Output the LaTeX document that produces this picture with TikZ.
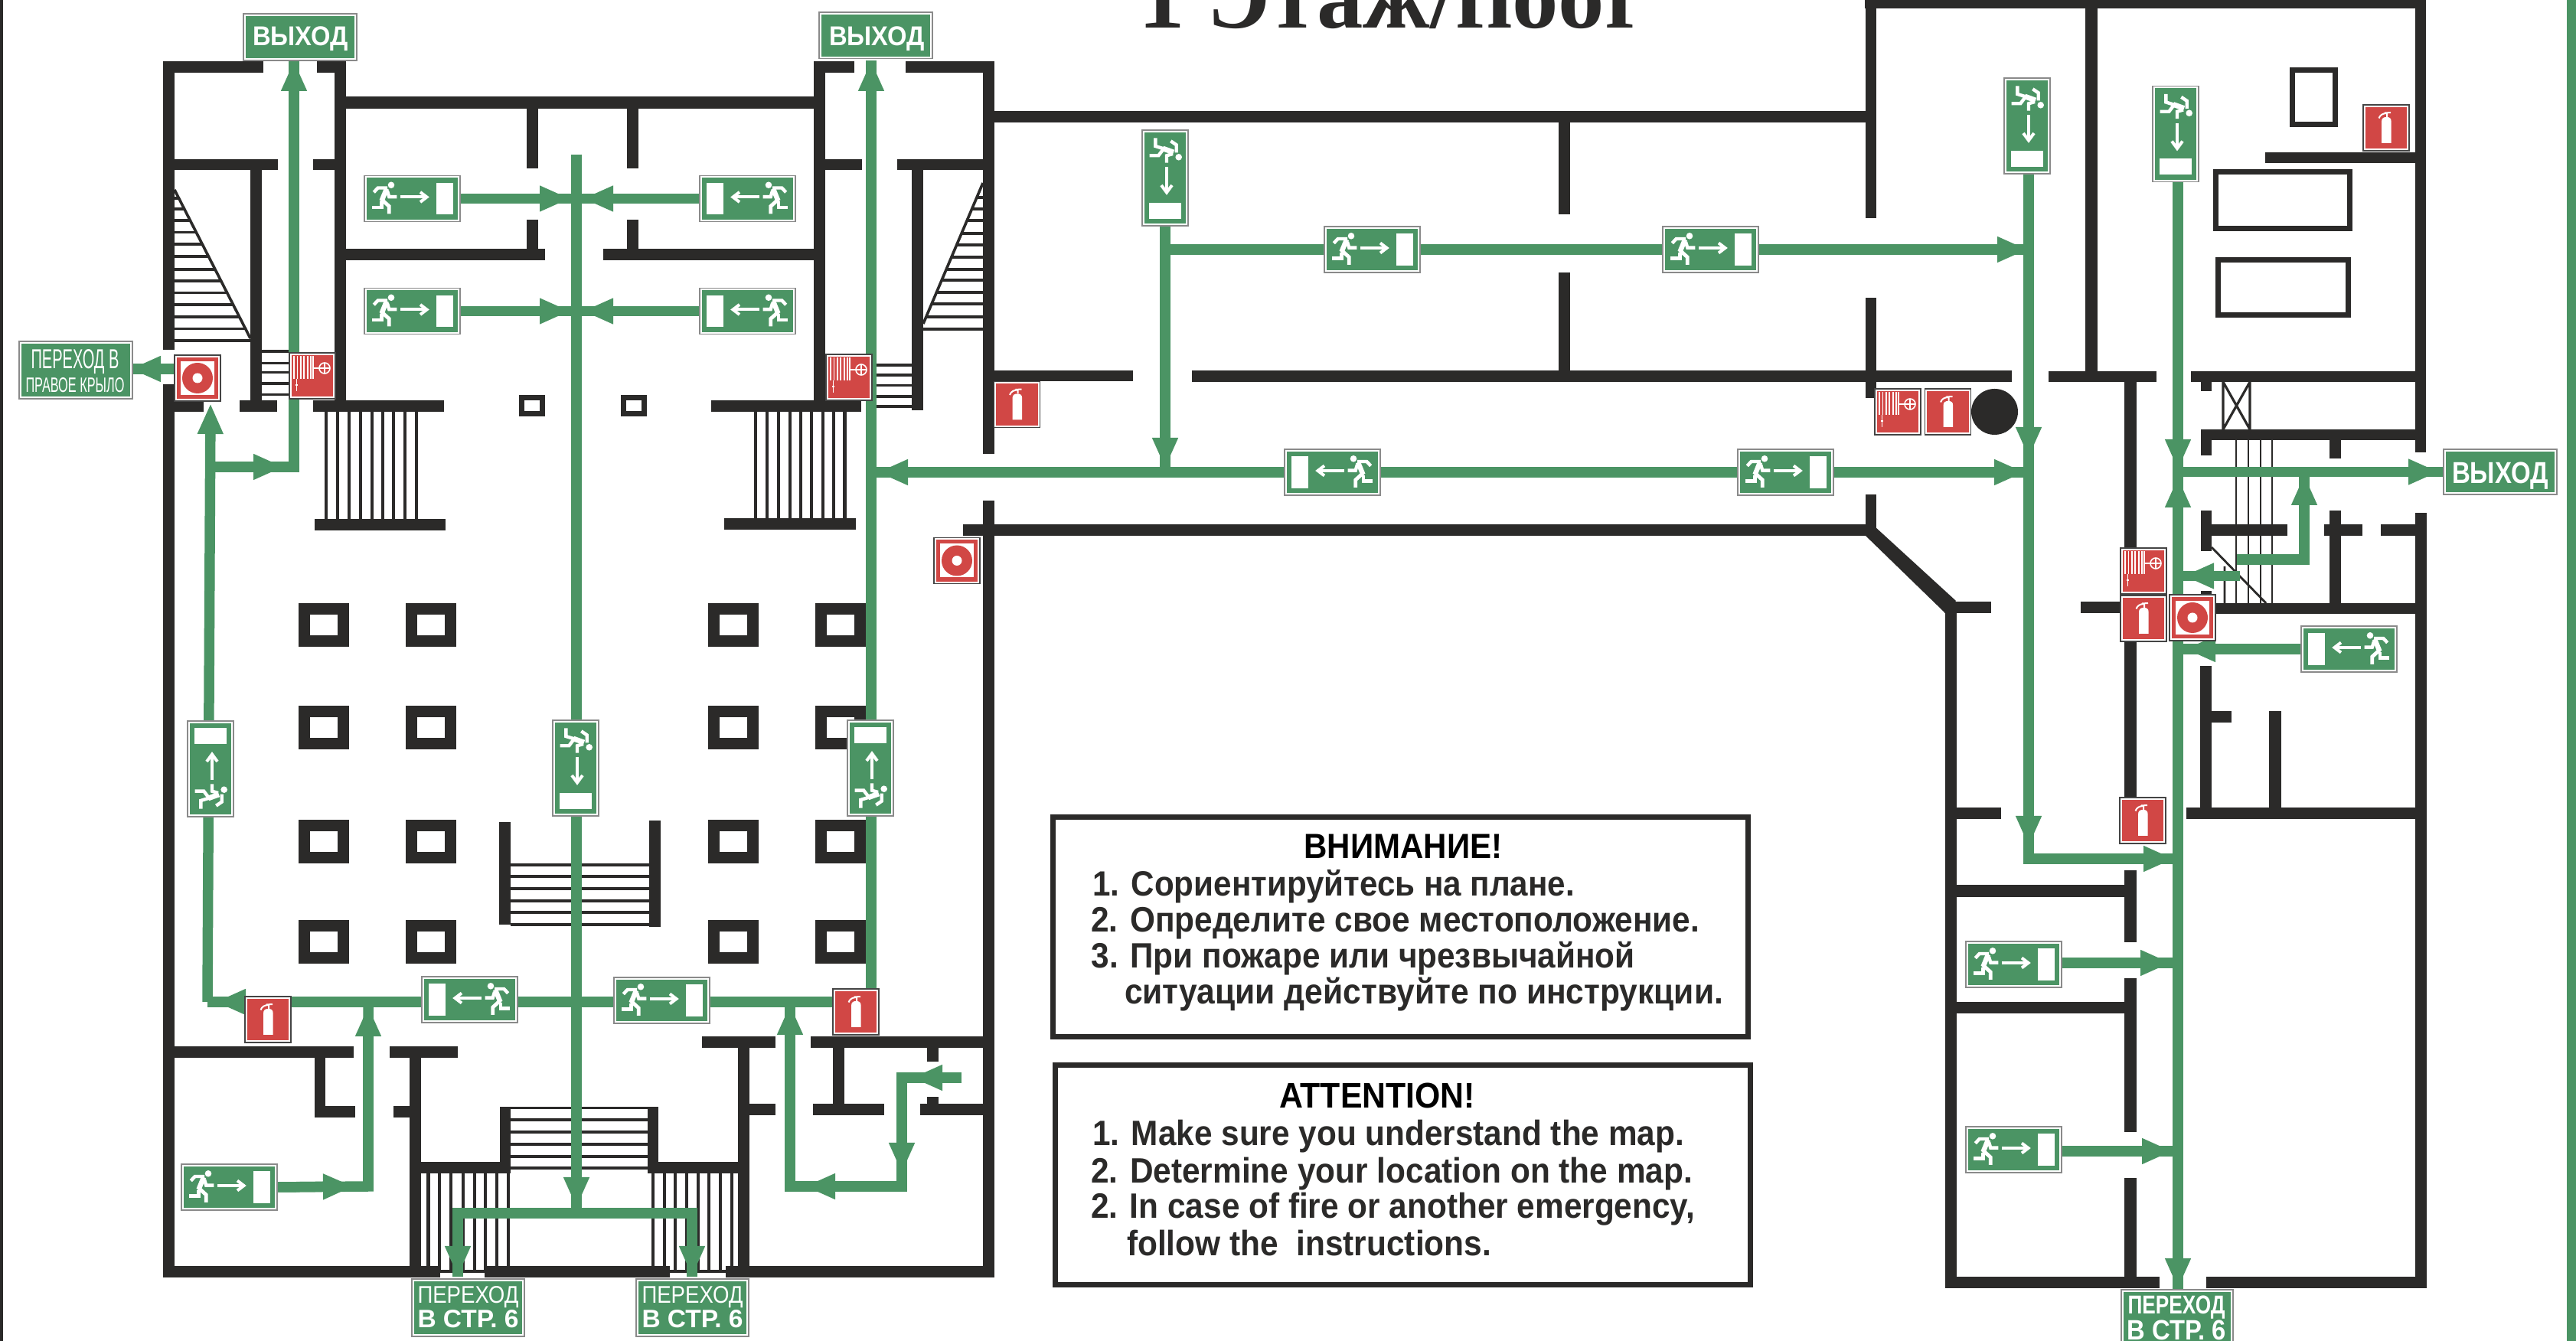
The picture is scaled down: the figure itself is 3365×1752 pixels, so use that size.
\documentclass[tikz,border=0pt]{standalone}
\usepackage{fontspec}
\usepackage{graphicx}
\setmainfont{Liberation Sans}
\newfontfamily\medf[FakeStretch=.92]{Liberation Sans Bold}
\newcommand\signf{}
\newcommand\exitf{}
\newfontfamily\titlef{Liberation Serif}
\usetikzlibrary{arrows.meta,backgrounds}
\definecolor{wallc}{HTML}{2B2A29}
\definecolor{grn}{HTML}{4B9464}
\definecolor{firered}{HTML}{D14745}
\definecolor{signline}{HTML}{8A8A8A}
\definecolor{redline}{HTML}{444444}
\tikzset{
  signbg/.style={fill=white,line width=.3pt,inner sep=0pt,outer sep=0pt,anchor=north west,rectangle},
  glyph/.style={draw=white,line width=1pt,line join=miter},
  glyphthin/.style={draw=white,line width=.4pt},
  routeline/.style={draw=grn,line width=3.375pt,line cap=butt,line join=miter},
  routego/.style={routeline,-{Triangle[length=10pt,width=7.75pt]}},
  tread/.style={draw=wallc,line width=.8pt},
  infobox/.style={draw=wallc,line width=1.75pt,fill=white,anchor=north west,rectangle,inner sep=0pt,minimum width=227pt,minimum height=71.75pt},
  label/.style={inner sep=0pt,outer sep=0pt,anchor=base west,text=wallc},
  signtext/.style={inner sep=0pt,outer sep=0pt,anchor=base,text=white}
}
\newcommand\signbox[7]{% name,x,y,w,h,fill,line
  \node[signbg,draw=#7,minimum width={#4*.25pt},minimum height={#5*.25pt}] (#1) at (#2,#3) {};
  \fill[#6] (#2+2.6,#3+2.6) rectangle (#2+#4-2.6,#3+#5-2.6);
}
\newcommand\glyphrun{%
  \fill[white] (35,12.3) circle (4.3);
  \draw[glyph,line width=1.1pt] (12.3,21.7)--(17.7,16)--(30,16);
  \draw[glyph,line width=1.6pt] (29,17)--(22.5,33);
  \draw[glyph,line width=1.2pt] (22.3,31)--(32.3,40)--(32.3,50);
  \draw[glyph,line width=1.1pt] (22.3,34)--(22.3,41.7)--(10,41.7);
  \draw[glyph,line width=1.1pt] (30,20)--(32.3,27.7)--(42.3,27.7);
  \draw[glyph] (47.3,28)--(81,28);
  \draw[glyph] (73,21.5)--(81.5,28)--(73,34.5);
  \fill[white] (94.3,9.3) rectangle (115.7,51);
}
\newcommand\glyphfall{%
  \fill[white] (47.7,35.3) circle (4.3);
  \draw[glyph,line width=1.1pt] (17.3,10.3)--(17.3,21)--(28,24.3);
  \draw[glyph,line width=1.1pt] (9.7,33.3)--(21.3,33.3)--(28,24.3);
  \draw[glyph,line width=1.7pt] (27,24)--(41,29);
  \draw[glyph,line width=1.1pt] (37.3,14.3)--(44.7,19.3)--(44.7,29.3);
  \draw[glyph,line width=1.1pt] (32,42.7)--(32,33.3)--(40,31);
  \draw[glyph] (32,48.3)--(32,81);
  \draw[glyph] (25,72)--(32,81.5)--(39,72);
  \fill[white] (9,95) rectangle (51,116);
}
\newcommand\signrun[3]{\signbox{#1}{#2}{#3}{125}{60}{grn}{signline}\begin{scope}[shift={(#2,#3)}]\glyphrun\end{scope}}
\newcommand\signrunl[3]{\signbox{#1}{#2}{#3}{125}{60}{grn}{signline}\begin{scope}[shift={(#2+125,#3)},xscale=-1]\glyphrun\end{scope}}
\newcommand\signdown[3]{\signbox{#1}{#2}{#3}{60}{125}{grn}{signline}\begin{scope}[shift={(#2,#3)}]\glyphfall\end{scope}}
\newcommand\signup[3]{\signbox{#1}{#2}{#3}{60}{125}{grn}{signline}\begin{scope}[shift={(#2,#3+125)},yscale=-1]\glyphfall\end{scope}}
\newcommand\signext[3]{\signbox{#1}{#2}{#3}{60}{60}{firered}{redline}\begin{scope}[shift={(#2,#3)}]
  \fill[white] (24,50) -- (24,22) .. controls (24,17) and (27,16) .. (30.5,16) .. controls (34,16) and (36.7,17) .. (36.7,22) -- (36.7,50) -- cycle;
  \draw[white,line width=.5pt] (20.5,17.5) .. controls (22,13) and (26,11) .. (31,11) -- (31,16) (28,10.5) -- (36,10);
\end{scope}}
\newcommand\signalarm[3]{\signbox{#1}{#2}{#3}{60}{60}{firered}{redline}\begin{scope}[shift={(#2,#3)}]
  \fill[white] (8,8) rectangle (52,52);
  \fill[firered] (30,30) circle (20);
  \fill[white] (30,30) circle (6.5);
\end{scope}}
\newcommand\signhose[3]{\signbox{#1}{#2}{#3}{60}{60}{firered}{redline}\begin{scope}[shift={(#2,#3)}]
  \foreach \q in {6,10.3,14.8,19.2,23.7,28.1,30.8} \draw[glyphthin] (\q,4.5)--(\q,34.4);
  \draw[glyphthin] (9.4,34)--(9.4,50) (8,42)--(11,42);
  \draw[glyphthin] (31,20)--(39,20);
  \draw[glyphthin] (46,20) circle (7) (39,20)--(53,20) (46,13)--(46,27);
\end{scope}}
\begin{document}
\begin{tikzpicture}[x=.25pt,y=-.25pt]
\useasboundingbox (0,0) rectangle (3365,1752);

% ---- signs (nodes)
\signbox{exitA}{318}{18}{148}{61}{grn}{signline}
\signbox{exitB}{1070}{16}{148}{60.5}{grn}{signline}
\signbox{exitC}{3192}{587}{148}{59}{grn}{signline}
\signbox{transL}{25}{446}{148}{75}{grn}{signline}
\signbox{transA}{538}{1671}{147}{75}{grn}{signline}
\signbox{transB}{831}{1671}{147}{75}{grn}{signline}
\signbox{transC}{2771}{1685}{146}{85}{grn}{signline}
\node[signtext] (tExitA) at (392.5,60) {\resizebox{31.25pt}{6.2pt}{\exitf\bfseries ВЫХОД}};
\node[signtext] (tExitB) at (1145.5,60) {\resizebox{31.25pt}{6.2pt}{\exitf\bfseries ВЫХОД}};
\node[signtext] (tExitC) at (3266,631.5) {\resizebox{31.5pt}{6.9pt}{\exitf\bfseries ВЫХОД}};
\node[signtext] (tL1) at (98,482) {\resizebox{28.75pt}{6.25pt}{\signf ПЕРЕХОД В}};
\node[signtext] (tL2) at (98,512.5) {\resizebox{32.25pt}{4.75pt}{\signf ПРАВОЕ КРЫЛО}};
\node[signtext] (tA1) at (611.5,1702) {\resizebox{33pt}{5.5pt}{\signf ПЕРЕХОД}};
\node[signtext] (tA2) at (611.5,1735) {\resizebox{33pt}{5.75pt}{\signf\bfseries В СТР. 6}};
\node[signtext] (tB1) at (904.5,1702) {\resizebox{33pt}{5.5pt}{\signf ПЕРЕХОД}};
\node[signtext] (tB2) at (904.5,1735) {\resizebox{33pt}{5.75pt}{\signf\bfseries В СТР. 6}};
\node[signtext] (tC1) at (2843,1716) {\resizebox{31.75pt}{5.9pt}{\signf\bfseries ПЕРЕХОД}};
\node[signtext] (tC2) at (2843,1750) {\resizebox{32.25pt}{6.4pt}{\signf\bfseries В СТР. 6}};

\signrun{rsA}{476}{229.5}
\signrun{rsB}{476}{376.5}
\signrunl{lsA}{914}{229.5}
\signrunl{lsB}{914}{376.5}
\signrunl{lsC}{551}{1276}
\signrun{rsC}{802}{1277}
\signrun{rsD}{237}{1521}
\signrun{rsE}{1730}{296}
\signrun{rsF}{2172}{296}
\signrunl{lsD}{1678}{587}
\signrun{rsG}{2270}{587}
\signrun{rsH}{2568}{1230}
\signrun{rsI}{2568}{1472}
\signrunl{lsE}{3006}{818}
\signdown{dsA}{1492}{170}
\signdown{dsB}{722}{941}
\signdown{dsC}{2618}{102}
\signdown{dsD}{2812}{112.5}
\signup{usA}{245}{942}
\signup{usB}{1107}{941}

\signext{exA}{320}{1302}
\signext{exB}{1088}{1292}
\signext{exC}{1298.5}{498.5}
\signext{exD}{2514.5}{508}
\signext{exE}{3087}{137}
\signext{exF}{2770}{778}
\signext{exG}{2769}{1042}
\signalarm{alA}{228}{464}
\signalarm{alB}{1220}{702.5}
\signalarm{alC}{2834}{777}
\signhose{hoA}{378}{461}
\signhose{hoB}{1079}{463}
\signhose{hoC}{2449}{508}
\signhose{hoD}{2770}{716}

% ---- info boxes
\node[infobox] (boxRu) at (1372,1064) {};
\node[infobox] (boxEn) at (1374.5,1388) {};
\node[label,text=black] (ru0) at (1703.6,1121.4) {\resizebox{64.75pt}{!}{\medf ВНИМАНИЕ!}};
\node[label] (ru1) at (1427,1170.4) {\resizebox{157.5pt}{!}{\medf 1. Сориентируйтесь на плане.}};
\node[label] (ru2) at (1425,1217.3) {\resizebox{198.75pt}{!}{\medf 2. Определите свое местоположение.}};
\node[label] (ru3) at (1425.5,1265) {\resizebox{177.5pt}{!}{\medf 3. При пожаре или чрезвычайной}};
\node[label] (ru4) at (1469,1312) {\resizebox{195.5pt}{!}{\medf ситуации действуйте по инструкции.}};
\node[label,text=black] (en0) at (1671,1448) {\resizebox{64pt}{!}{\medf ATTENTION!}};
\node[label] (en1) at (1427,1497) {\resizebox{193.25pt}{!}{\medf 1. Make sure you understand the map.}};
\node[label] (en2) at (1425,1546) {\resizebox{196.5pt}{!}{\medf 2. Determine your location on the map.}};
\node[label] (en3) at (1425,1592) {\resizebox{197.25pt}{!}{\medf 2. In case of fire or another emergency,}};
\node[label] (en4) at (1472,1640) {\resizebox{119pt}{!}{\medf follow the\ \ instructions.}};
\node[label] (title) at (1487,37) {\resizebox{165.75pt}{!}{\titlef\bfseries 1 Этаж/floor}};

% ---- route coordinates
\foreach \n/\x/\y in {aT/384/79,aB/384/610,aL/274/610,aH/371/610,
  bB/271/1309,bT/275/527,bH/321/1309,bHt/281/1309,bR/1138/1309,
  tS/228/482,tH/170/482,tE/173/482,
  dC/481/1550,dH/462/1550,dT/481/1314,
  cT/753/202,cH/753/1578,cB/753/1585,eL/598/1585,eR/904/1585,eLt/598/1668,eRt/904/1668,
  rA/745/259.5,lA/761/259.5,rB/745/406.5,lB/761/406.5,cA/753/259.5,cC/753/406.5,
  fT/1138/79,fB/1138/1292,gH/1146/617,gJ/1138/617,
  hT/1522/612,hC/1522/617,hB/1522/326,iH/2649/326,iJ/2650/326,jH/2645/617,jJ/2650/617,
  kT/2650/227,kA/2650/598,kB/2650/1106,kC/2650/1122,kE/2840/1122,kF/2845/1122,
  mT/2845/237,mA/2845/614,mB/2845/623,mC/2845/1684,mD/2845/1685,
  nS/2851/616.5,nH/3186/616.5,
  oL/2922/731,oC/3010/731,oH/3010/620,oT/3010/616.5,
  pR/2926/752.5,pH/2852/752.5,pJ/2845/752.5,qH/2854/848,qJ/2845/848,
  sS/2693/1258,sH/2836/1258,sJ/2845/1258,uS/2693/1504,uH/2838/1504,uJ/2845/1504,
  vS/1256/1408,vH/1191/1408,vC/1178/1408,vD/1178/1533,vE/1178/1550,vF/1051/1550,vG/1032/1550,vT/1032/1312,vU/1032/1309}
  \coordinate (\n) at (\x,\y);

\begin{pgfonlayer}{background}
\fill[white] (0,0) rectangle (3365,1752);
\fill[wallc] (0,0) rectangle (4,1752);
\fill[grn] (3353,0) rectangle (3365,1752);

% walls
\foreach \a/\b/\c/\d in {
  213/80/228/457, 213/502/228/1669, 213/80/344/95, 414/80/452/95, 437/80/452/538,
  452/126/1063/142, 452/325/712/340, 788/325/1063/340,
  688/142/703/220, 688/287/703/340, 819/142/834/220, 819/287/834/340,
  228/208/362.5/222, 409/208/437/222, 327/222/342/538, 313/523/362/538, 228/523/266/538,
  409/523/580/538, 411/678/582/693,
  1063/80/1078/538, 1063/80/1116/95, 1183/80/1299/95, 1284/80/1299/593,
  1299/145/2440/160, 1078/208/1125.5/222, 1172/208/1284/222, 1191/222/1206/536,
  929/523/1125/538, 946/677.5/1118/692,
  1299/484/1480/498.5, 1557/484/2628/499, 1284/654/1299/1669, 1258/685/2440/700,
  2036/160/2051/280, 2036/356/2051/484,
  2436.5/0/2451/285, 2436.5/389/2451/519.6, 2436.5/646/2451/700,
  2436/0/3169/11, 2724/0/2740/490, 2676/485/2817/499, 2862/485/3169/499,
  3155/0/3169/591, 3155/670/3170/1683,
  2775/499/2791/720, 2775/838/2791/1043, 2775/1137/2791/1231, 2775/1278/2791/1479, 2775/1539/2791/1683,
  2541/786/2556/1683, 2540/786/2601/801, 2717.5/786/2772/801,
  2874.5/499/2889/511, 2874.5/561/2889/595, 2874.5/561/3155/575, 3043/575/3058/599,
  2874.5/667/2889/720, 2889/685/2988/700, 3036/685/3086/700, 3110/685/3155/700,
  3043/667/3058/788, 2874.5/772/2889/788, 2874.5/788/3155/802.5,
  2874/870/2889/1055, 2889/929/2915/944.5, 2964/929/2980/1055,
  2856/1055/3155/1070, 2556/1055/2614/1070, 2556/1156/2775/1172, 2556/1309/2775/1324,
  2541/1668/2821/1683, 2882/1668/3170/1683,
  228/1367/462/1382, 509/1367/598/1382, 411/1382/425/1460, 411/1445/464/1460,
  535/1382/550/1669, 514/1445/535/1460, 535/1518/667/1533, 845.6/1518/978/1533,
  653/1447/667/1533, 846/1447/860/1533, 653/1446/860/1449.5,
  917/1354/1013/1369, 1059/1354/1284/1369, 964/1369/979/1669, 978/1442/1013/1457,
  1088/1369/1103/1442, 1062/1442/1155/1457, 1211/1369/1226/1387, 1211/1433/1226/1442,
  1202/1442/1284/1457,
  213/1654/575/1669, 633/1654/875/1669, 948/1654/1299/1669, 575/1659/633/1663, 875/1659/948/1663,
  652/1074/667/1208, 848/1072/863/1211}
  \fill[wallc] (\a,\b) rectangle (\c,\d);
\fill[wallc] (2449,688) -- (2555,785) -- (2540,800) -- (2436,699) -- cycle;

% columns
\foreach \x in {390,530,925,1065}
  \foreach \y in {788,922,1071,1202} {
    \fill[wallc] (\x,\y) rectangle +(66,57);
    \fill[white] (\x+15,\y+15) rectangle +(36,27);
  }
\foreach \x in {678,811} {
  \fill[wallc] (\x,516) rectangle +(34,28);
  \fill[white] (\x+7,523) rectangle +(20,14);
}

% stairs
\foreach \y in {1130,1145,1161,1177,1192,1208} \draw[tread,line width=1pt] (667,\y)--(848,\y);
\foreach \y in {1463,1479,1495,1511,1526} \draw[tread,line width=.9pt] (667,\y)--(846,\y);
\foreach \x in {559.5,574,589,605,620,634,649,664,853,868,882,897,912,926,941,956}
  \draw[tread,line width=1.1pt] (\x,1533)--(\x,1660);
\foreach \x in {426,441,456,471,486,500,514,529,544}
  \draw[tread,line width=1.1pt] (\x,538)--(\x,678);
\foreach \x in {987,1002,1017,1032,1046,1060,1075,1089,1103.5}
  \draw[tread,line width=1.1pt] (\x,538)--(\x,678);
\foreach \y in {459,474.5,486.6,501,515.6} \draw[tread] (342,\y)--(378,\y);
\foreach \y in {477,490,503.5,518,531} \draw[tread] (1145,\y)--(1191,\y);
\begin{scope}
  \clip (228,246) -- (327,440) -- (327,448) -- (228,448) -- cycle;
  \foreach \y in {259,273,288,303.6,319,335,352,367,382.6,398,414,429.5,445} \draw[tread] (228,\y)--(327,\y);
\end{scope}
\draw[tread,line width=.9pt] (228,248)--(327,442);
\begin{scope}
  \clip (1284,237) -- (1206,421) -- (1206,433) -- (1284,433) -- cycle;
  \foreach \y in {258,273,288,305,320,336,352,366,382,397,414,430} \draw[tread] (1206,\y)--(1284,\y);
\end{scope}
\draw[tread,line width=.9pt] (1284,239)--(1206,423);

% service rooms
\fill[wallc] (2575,508) ++(30.5,30) ellipse (30.5 and 30);
\foreach \a/\b/\c/\d in {2994.5/91.5/3050/162.5, 2894/225/3069/299, 2897/339.5/3067.5/412}
  \draw[wallc,line width=1.75pt] (\a,\b) rectangle (\c,\d);
\fill[wallc] (2959,199) rectangle (3155,213.5);
\draw[wallc,line width=.8pt] (2904,499)--(2904,561) (2939,499)--(2939,561) (2904,499)--(2939,561) (2939,499)--(2904,561);
\foreach \x in {2921,2937,2953,2968} \draw[wallc,line width=.7pt] (\x,575)--(\x,788);
\draw[wallc,line width=.7pt] (2906,740)--(2906,788) (2889,715)--(2960,788);

% routes
\draw[routeline] (aT)--(aB)--(aL);
\draw[routego] (aL)--(aH);
\draw[routego] (aB)--(aT);
\draw[routego] (bB)--(bT);
\draw[routeline] (bB)--(bR);
\draw[routego] (bH)--(bHt);
\draw[routeline] (tS)--(tE);
\draw[routego] (tS)--(tH);
\draw[routeline] (rsD.east)--(dC)--(dT);
\draw[routego] (rsD.east)--(dH);
\draw[routego] (dC)--(dT);
\draw[routeline] (cT)--(cB);
\draw[routego] (cT)--(cH);
\draw[routeline] (eLt)--(eL)--(eR)--(eRt);
\draw[routego] (eL)--(eLt);
\draw[routego] (eR)--(eRt);
\draw[routeline] (rsA.east)--(lsA.west);
\draw[routeline] (rsB.east)--(lsB.west);
\draw[routego] (rsA.east)--(rA);
\draw[routego] (lsA.west)--(lA);
\draw[routego] (rsB.east)--(rB);
\draw[routego] (lsB.west)--(lB);
\draw[routeline] (fB)--(fT);
\draw[routego] (fB)--(fT);
\draw[routeline] (lsD.west)--(gJ);
\draw[routego] (lsD.west)--(gH);
\draw[routeline] (dsA.south)--(hC);
\draw[routego] (dsA.south)--(hT);
\draw[routeline] (hB)--(rsE.west);
\draw[routeline] (rsE.east)--(rsF.west);
\draw[routeline] (rsF.east)--(iJ);
\draw[routego] (rsF.east)--(iH);
\draw[routeline] (lsD.east)--(rsG.west);
\draw[routeline] (rsG.east)--(jJ);
\draw[routego] (rsG.east)--(jH);
\draw[routeline] (kT)--(kC)--(kF);
\draw[routego] (kT)--(kA);
\draw[routego] (kT)--(kB);
\draw[routego] (kC)--(kE);
\draw[routeline] (mT)--(mD);
\draw[routego] (mT)--(mA);
\draw[routego] (mC)--(mB);
\draw[routego] (mB)--(mC);
\draw[routeline] (nS)--(exitC.west);
\draw[routego] (nS)--(nH);
\draw[routeline] (oL)--(oC)--(oT);
\draw[routego] (oC)--(oH);
\draw[routeline] (pR)--(pJ);
\draw[routego] (pR)--(pH);
\draw[routeline] (lsE.west)--(qJ);
\draw[routego] (lsE.west)--(qH);
\draw[routeline] (sS)--(sJ);
\draw[routego] (sS)--(sH);
\draw[routeline] (uS)--(uJ);
\draw[routego] (uS)--(uH);
\draw[routeline] (vS)--(vC)--(vE)--(vG)--(vU);
\draw[routego] (vS)--(vH);
\draw[routego] (vC)--(vD);
\draw[routego] (vE)--(vF);
\draw[routego] (vG)--(vT);
\end{pgfonlayer}
\end{tikzpicture}
\end{document}
